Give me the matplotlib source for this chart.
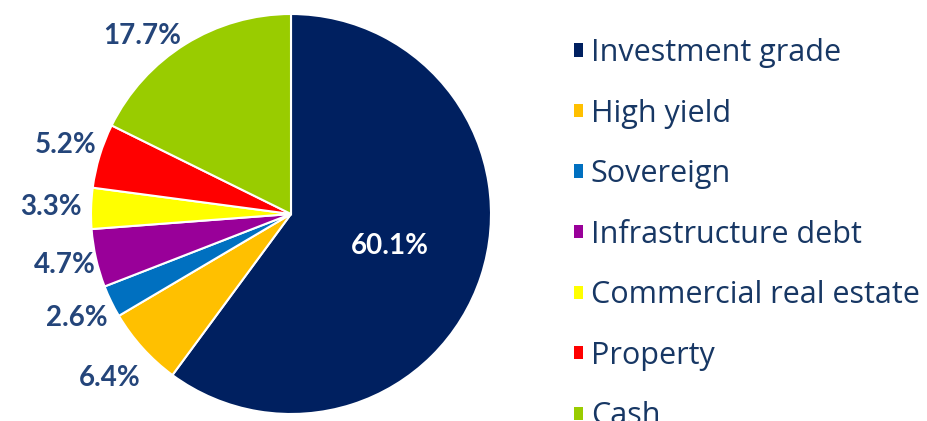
import matplotlib
matplotlib.use("Agg")
import matplotlib.pyplot as plt
import numpy as np

categories = ["Investment grade", "High yield", "Sovereign", "Infrastructure debt",
              "Commercial real estate", "Property", "Cash"]
values = [60.1, 6.4, 2.6, 4.7, 3.3, 5.2, 17.7]
colors = ["#002060", "#FFC000", "#0070C0", "#990099", "#FFFF00", "#FF0000", "#99CC00"]

W, H = 928, 421
fig = plt.figure(figsize=(W / 100, H / 100), dpi=100)
cx, cy, r = 291, 214, 200
ax = fig.add_axes([(cx - r) / W, (H - cy - r) / H, 2 * r / W, 2 * r / H])

wedges, texts, autotexts = ax.pie(
    values, colors=colors, startangle=90, counterclock=False,
    autopct=lambda p: f"{p:.1f}%", pctdistance=1.19,
    wedgeprops=dict(edgecolor="white", linewidth=1.5),
    textprops=dict(family="Lato", fontweight="bold", fontsize=20, color="#24457A"),
)
ax.set_xlim(-1, 1)
ax.set_ylim(-1, 1)
ax.set_aspect("equal")

# per-label radial distances / angular nudges (label placement styling)
dists = [0.52, 1.22, 1.19, 1.16, 1.20, 1.18, 1.16]
angle_shift = [0, 0, 0, 0, 0, 0, 8]
for w, t, d, s in zip(wedges, autotexts, dists, angle_shift):
    ang = np.deg2rad((w.theta1 + w.theta2) / 2 + s)
    t.set_position((d * np.cos(ang), d * np.sin(ang)))
    t.set_ha("center"); t.set_va("center")
autotexts[0].set_color("white")

leg = fig.legend(wedges, categories, loc="upper left",
                 bbox_to_anchor=(574 / W, 1 - 38 / H), frameon=False,
                 prop=dict(family="Open Sans", size=22),
                 labelcolor="#173764", handlelength=0.29, handleheight=0.29,
                 handletextpad=0.26, labelspacing=1.0, borderpad=0, borderaxespad=0)
for h in leg.legend_handles:
    h.set_edgecolor("none")

fig.savefig("out.png", dpi=100)
